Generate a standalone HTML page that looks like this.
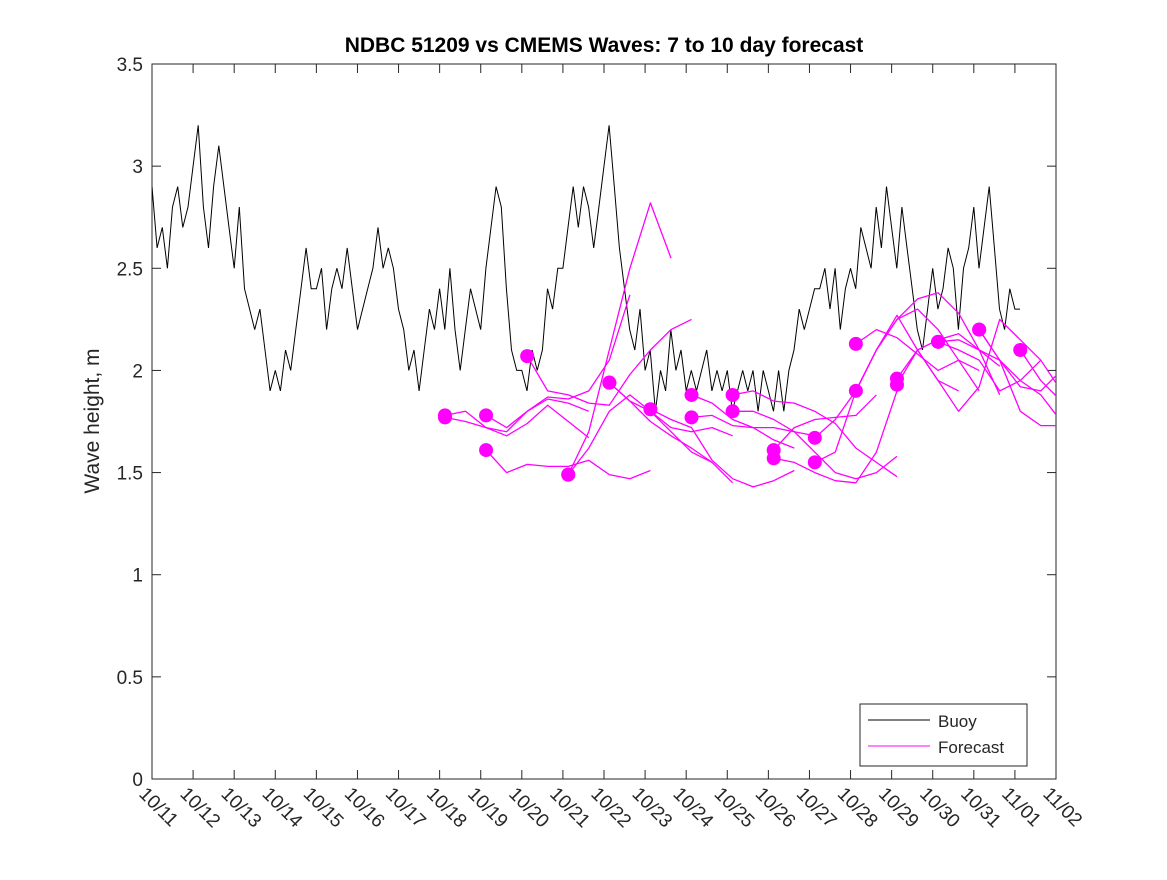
<!DOCTYPE html>
<html><head><meta charset="utf-8"><style>
body{margin:0;background:#fff}
svg text{font-family:"Liberation Sans",sans-serif;fill:#262626}
</style></head><body>
<svg id="chart" width="1167" height="875" xmlns="http://www.w3.org/2000/svg">
<defs><clipPath id="plotclip"><rect x="152" y="64" width="904" height="715"/></clipPath></defs>
<rect width="1167" height="875" fill="#fff"/>
<text x="604" y="52" text-anchor="middle" font-size="21" font-weight="bold" style="fill:#000">NDBC 51209 vs CMEMS Waves: 7 to 10 day forecast</text>
<text transform="translate(99,421) rotate(-90)" text-anchor="middle" font-size="21">Wave height, m</text>
<g id="axes"></g>
<g id="series" clip-path="url(#plotclip)"></g>
<g>
<rect x="860" y="704" width="167" height="62" fill="#fff" stroke="#262626" stroke-width="1"/>
<line x1="868" y1="720" x2="930" y2="720" stroke="#000" stroke-width="1"/>
<text x="938" y="727" font-size="17">Buoy</text>
<line x1="868" y1="746" x2="930" y2="746" stroke="#f0f" stroke-width="1"/>
<text x="938" y="753" font-size="17">Forecast</text>
</g>
</svg>
<script>
const xTickLabels=["10/11","10/12","10/13","10/14","10/15","10/16","10/17","10/18","10/19","10/20","10/21","10/22","10/23","10/24","10/25","10/26","10/27","10/28","10/29","10/30","10/31","11/01","11/02"];
const yTicks=[0,0.5,1,1.5,2,2.5,3,3.5];
const buoyStep=0.125;
const buoy=[2.9,2.6,2.7,2.5,2.8,2.9,2.7,2.8,
3.0,3.2,2.8,2.6,2.9,3.1,2.9,2.7,
2.5,2.8,2.4,2.3,2.2,2.3,2.1,1.9,
2.0,1.9,2.1,2.0,2.2,2.4,2.6,2.4,
2.4,2.5,2.2,2.4,2.5,2.4,2.6,2.4,
2.2,2.3,2.4,2.5,2.7,2.5,2.6,2.5,
2.3,2.2,2.0,2.1,1.9,2.1,2.3,2.2,
2.4,2.2,2.5,2.2,2.0,2.2,2.4,2.3,
2.2,2.5,2.7,2.9,2.8,2.4,2.1,2.0,
2.0,1.9,2.1,2.0,2.1,2.4,2.3,2.5,
2.5,2.7,2.9,2.7,2.9,2.8,2.6,2.8,
3.0,3.2,2.9,2.6,2.4,2.2,2.1,2.3,
2.0,2.1,1.8,2.0,1.9,2.2,2.0,2.1,
1.9,2.0,1.9,2.0,2.1,1.9,2.0,1.9,
2.0,1.8,1.9,2.0,1.9,2.0,1.8,2.0,
1.9,1.8,2.0,1.8,2.0,2.1,2.3,2.2,
2.3,2.4,2.4,2.5,2.3,2.5,2.2,2.4,
2.5,2.4,2.7,2.6,2.5,2.8,2.6,2.9,
2.7,2.5,2.8,2.6,2.4,2.2,2.1,2.3,
2.5,2.3,2.4,2.6,2.5,2.2,2.5,2.6,
2.8,2.5,2.7,2.9,2.6,2.3,2.2,2.4,
2.3,2.3];
const fcStep=0.5;
const fcStarts=[7.13,7.13,8.13,8.13,9.13,10.13,10.13,11.13,11.13,12.13,13.13,13.13,14.13,14.13,15.13,15.13,16.13,16.13,17.13,17.13,18.13,18.13,19.13,19.13,20.13,20.13,21.13];
const fcValues=[
[1.78,1.80,1.72,1.70,1.80,1.86,1.84,1.80],
[1.77,1.75,1.72,1.68,1.74,1.83,1.75,1.67],
[1.61,1.50,1.54,1.53,1.53,1.56,1.49,1.47,1.51],
[1.78,1.72,1.80,1.87,1.86,1.90,2.05,2.37],
[2.07,1.90,1.88,1.84,1.83,1.98,2.10,2.20,2.25],
[1.49,1.62,1.80,1.88,1.80,1.70,1.60,1.55],
[1.49,1.70,2.10,2.50,2.82,2.55],
[1.94,1.85,1.75,1.68,1.62,1.55,1.45],
[1.94,1.85,1.80,1.72,1.70,1.72,1.68],
[1.81,1.76,1.72,1.56,1.47,1.43,1.46,1.51],
[1.88,1.84,1.76,1.72,1.72,1.70,1.68],
[1.77,1.78,1.73,1.72,1.66,1.62],
[1.88,1.90,1.85,1.84,1.80,1.74,1.62,1.55,1.48],
[1.80,1.80,1.76,1.70,1.60,1.50,1.47,1.50,1.58],
[1.61,1.72,1.76,1.77,1.78,1.88],
[1.57,1.55,1.50,1.46,1.45,1.60,1.90],
[1.67,1.76,1.90,2.10,2.27,2.10,1.95,1.90],
[1.55,1.60,1.90,2.10,2.25,2.30,2.20,2.05,2.00],
[2.13,2.20,2.16,2.08,2.00,2.05,1.90],
[1.90,2.10,2.25,2.35,2.38,2.28,2.10,1.88],
[1.96,2.10,2.15,2.18,2.10,2.02],
[1.93,2.10,1.95,1.80,1.92,2.25,2.15,2.05],
[2.14,2.10,2.05,1.90,1.95,2.05,1.90],
[2.14,2.15,2.10,2.05,1.80,1.73,1.73,1.70],
[2.20,2.05,1.92,1.90,2.00,1.88],
[2.20,2.05,1.95,1.88,1.75,1.67],
[2.10,1.95,1.85,1.80,1.79]];
const X0=152,X1=1056,Y0=779,Y1=64,DAYS=22,YMAX=3.5;
const sx=d=>X0+(X1-X0)*d/DAYS;
const sy=v=>Y0-(Y0-Y1)*v/YMAX;
const NS="http://www.w3.org/2000/svg";
const axes=document.getElementById('axes'),series=document.getElementById('series');
function mk(t,a,p){const e=document.createElementNS(NS,t);for(const k in a)e.setAttribute(k,a[k]);p.appendChild(e);return e;}
const frame=mk('rect',{x:X0,y:Y1,width:X1-X0,height:Y0-Y1,fill:'none',stroke:'#262626','stroke-width':1},axes);


yTicks.forEach(v=>{
 const y=sy(v);
 mk('line',{x1:X0,x2:X0+9,y1:y,y2:y,stroke:'#262626'},axes);
 mk('line',{x1:X1,x2:X1-9,y1:y,y2:y,stroke:'#262626'},axes);
 const t=mk('text',{x:X0-9,y:y+7,'text-anchor':'end','font-size':19},axes);
 t.textContent=String(v);
 
 
});
xTickLabels.forEach((l,i)=>{
 const x=sx(i);
 mk('line',{x1:x,x2:x,y1:Y0,y2:Y0-9,stroke:'#262626'},axes);
 mk('line',{x1:x,x2:x,y1:Y1,y2:Y1+9,stroke:'#262626'},axes);
 const t=mk('text',{transform:`translate(${x-14},${Y0+16}) rotate(45)`,'font-size':19},axes);
 t.textContent=l;
 
 
});
let d='';
buoy.forEach((v,i)=>{d+=(i?'L':'M')+sx(i*buoyStep).toFixed(1)+','+sy(v).toFixed(1);});
const bl=mk('path',{d:d,fill:'none',stroke:'#000','stroke-width':1},series);


fcValues.forEach((vals,k)=>{
 let p='';
 vals.forEach((v,i)=>{p+=(i?'L':'M')+sx(fcStarts[k]+i*fcStep).toFixed(1)+','+sy(v).toFixed(1);});
 const fl=mk('path',{d:p,fill:'none',stroke:'#f0f','stroke-width':1.3,'stroke-linejoin':'round'},series);
 
 
});
fcValues.forEach((vals,k)=>{
 const c=mk('circle',{cx:sx(fcStarts[k]),cy:sy(vals[0]),r:7,fill:'#f0f'},series);
 
 
});
</script>
</body></html>
